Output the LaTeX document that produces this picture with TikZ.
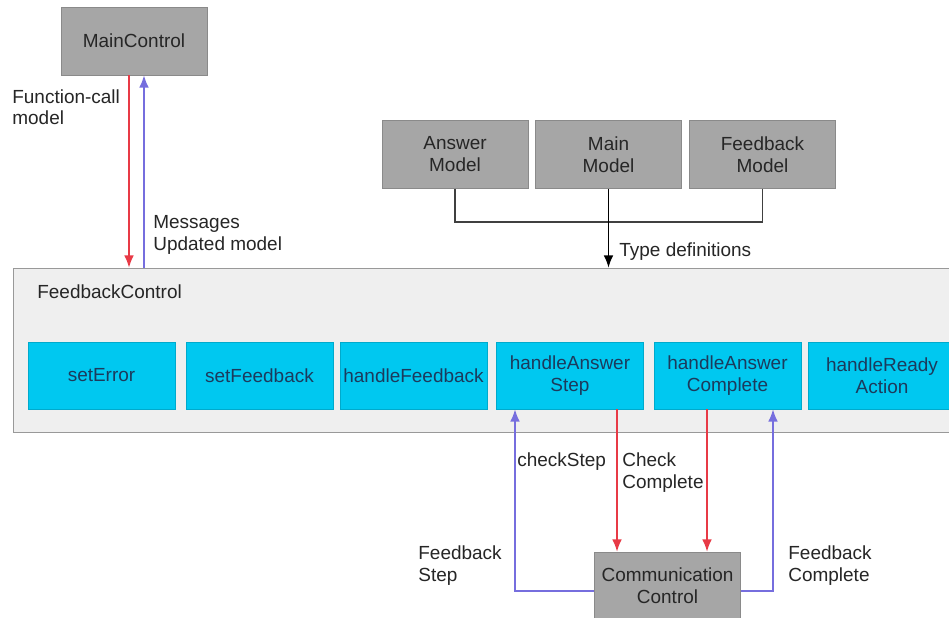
\documentclass[tikz,border=0pt]{standalone}
\usepackage{fontspec}
\setmainfont{Liberation Sans}
\usetikzlibrary{arrows.meta, calc}

\definecolor{boxgray}{RGB}{166,166,166}
\definecolor{edgegray}{RGB}{138,138,138}
\definecolor{panelgray}{RGB}{239,239,239}
\definecolor{fncyan}{RGB}{0,200,240}
\definecolor{fntext}{RGB}{28,58,92}
\definecolor{callred}{RGB}{232,58,70}
\definecolor{replyblue}{RGB}{118,110,222}

\tikzset{
  every node/.style={font=\fontsize{10.8}{12.5}\selectfont, inner sep=0pt},
  module/.style={draw=edgegray, fill=boxgray, minimum width=2.92cm, minimum height=1.36cm, align=center, text=black!85},
  func/.style={draw=fncyan!85!black, fill=fncyan, minimum width=2.94cm, minimum height=1.34cm, align=center, text=fntext},
  panel/.style={draw=black!40, fill=panelgray, minimum width=18.94cm, minimum height=3.28cm},
  lbl/.style={anchor=base west, align=left, text=black!85},
  tip/.style={-{Latex[length=7pt, width=5.5pt]}},
  callarrow/.style={callred, line width=0.8pt, tip},
  replyarrow/.style={replyblue, line width=0.8pt, tip},
}

\begin{document}
\begin{tikzpicture}[x=0.02cm, y=-0.02cm]
    \clip (0,0) rectangle (949,618);
    \fill[white] (0,0) rectangle (949,618);

    % top level controller and the model types
    \node[module] (mainctrl) at (134,41) {MainControl};
    \node[module] (ansmodel) at (455,154.5) {Answer\\Model};
    \node[module] (mainmodel) at (608.5,154.5) {Main\\Model};
    \node[module] (fbmodel) at (762.5,154.5) {Feedback\\Model};

    % feedback controller with its functions
    \node[panel] (fbctrl) at (486.5,350) {};
    \node[lbl] (fbname) at (37,298) {FeedbackControl};
    \node[func] (seterr) at (101.5,375.5) {setError};
    \node[func] (setfb) at (259.5,375.5) {setFeedback};
    \node[func] (handlefb) at (413.5,375.5) {handleFeedback};
    \node[func] (has) at (570,375.5) {handleAnswer\\Step};
    \node[func] (hac) at (727.5,375.5) {handleAnswer\\Complete};
    \node[func] (hra) at (882,375.5) {handleReady\\Action};

    \node[module] (comm) at (667.5,586) {Communication\\Control};

    % main control <-> feedback control
    \coordinate (callout) at ($(mainctrl.south)+(-5,0)$);
    \coordinate (replyin) at ($(mainctrl.south)+(10,0)$);
    \draw[callarrow] (callout) -- (callout |- fbctrl.north);
    \draw[replyarrow] (replyin |- fbctrl.north) -- (replyin);
    \node[lbl] (fncall) at (12,125) {Function-call\\model};
    \node[lbl] (msgs) at (153,250) {Messages\\Updated model};

    % type definitions
    \draw[black!75, line width=0.8pt] (ansmodel.south) |- ($(mainmodel.south)+(0,33)$) -| (fbmodel.south);
    \draw[black, line width=0.8pt, tip] (mainmodel.south) -- (mainmodel.south |- fbctrl.north);
    \node[lbl] (typedefs) at (619,256) {Type definitions};

    % checks to communication control and feedback back
    \coordinate (stepback) at ($(has.south)+(-55,0)$);
    \coordinate (stepcheck) at ($(has.south)+(47,0)$);
    \coordinate (compcheck) at ($(hac.south)+(-20.5,0)$);
    \coordinate (compback) at ($(hac.south)+(45.5,0)$);
    \draw[replyarrow] (comm.west |- 0,591) -| (stepback);
    \draw[callarrow] (stepcheck) -- (stepcheck |- comm.north);
    \draw[callarrow] (compcheck) -- (compcheck |- comm.north);
    \draw[replyarrow] (comm.east |- 0,591) -| (compback);

    \node[lbl] (chkstep) at (517,466) {checkStep};
    \node[lbl] (chkcomp) at (622,488) {Check\\Complete};
    \node[lbl] (fbstep) at (418,581) {Feedback\\Step};
    \node[lbl] (fbcomp) at (788,581) {Feedback\\Complete};
\end{tikzpicture}
\end{document}
